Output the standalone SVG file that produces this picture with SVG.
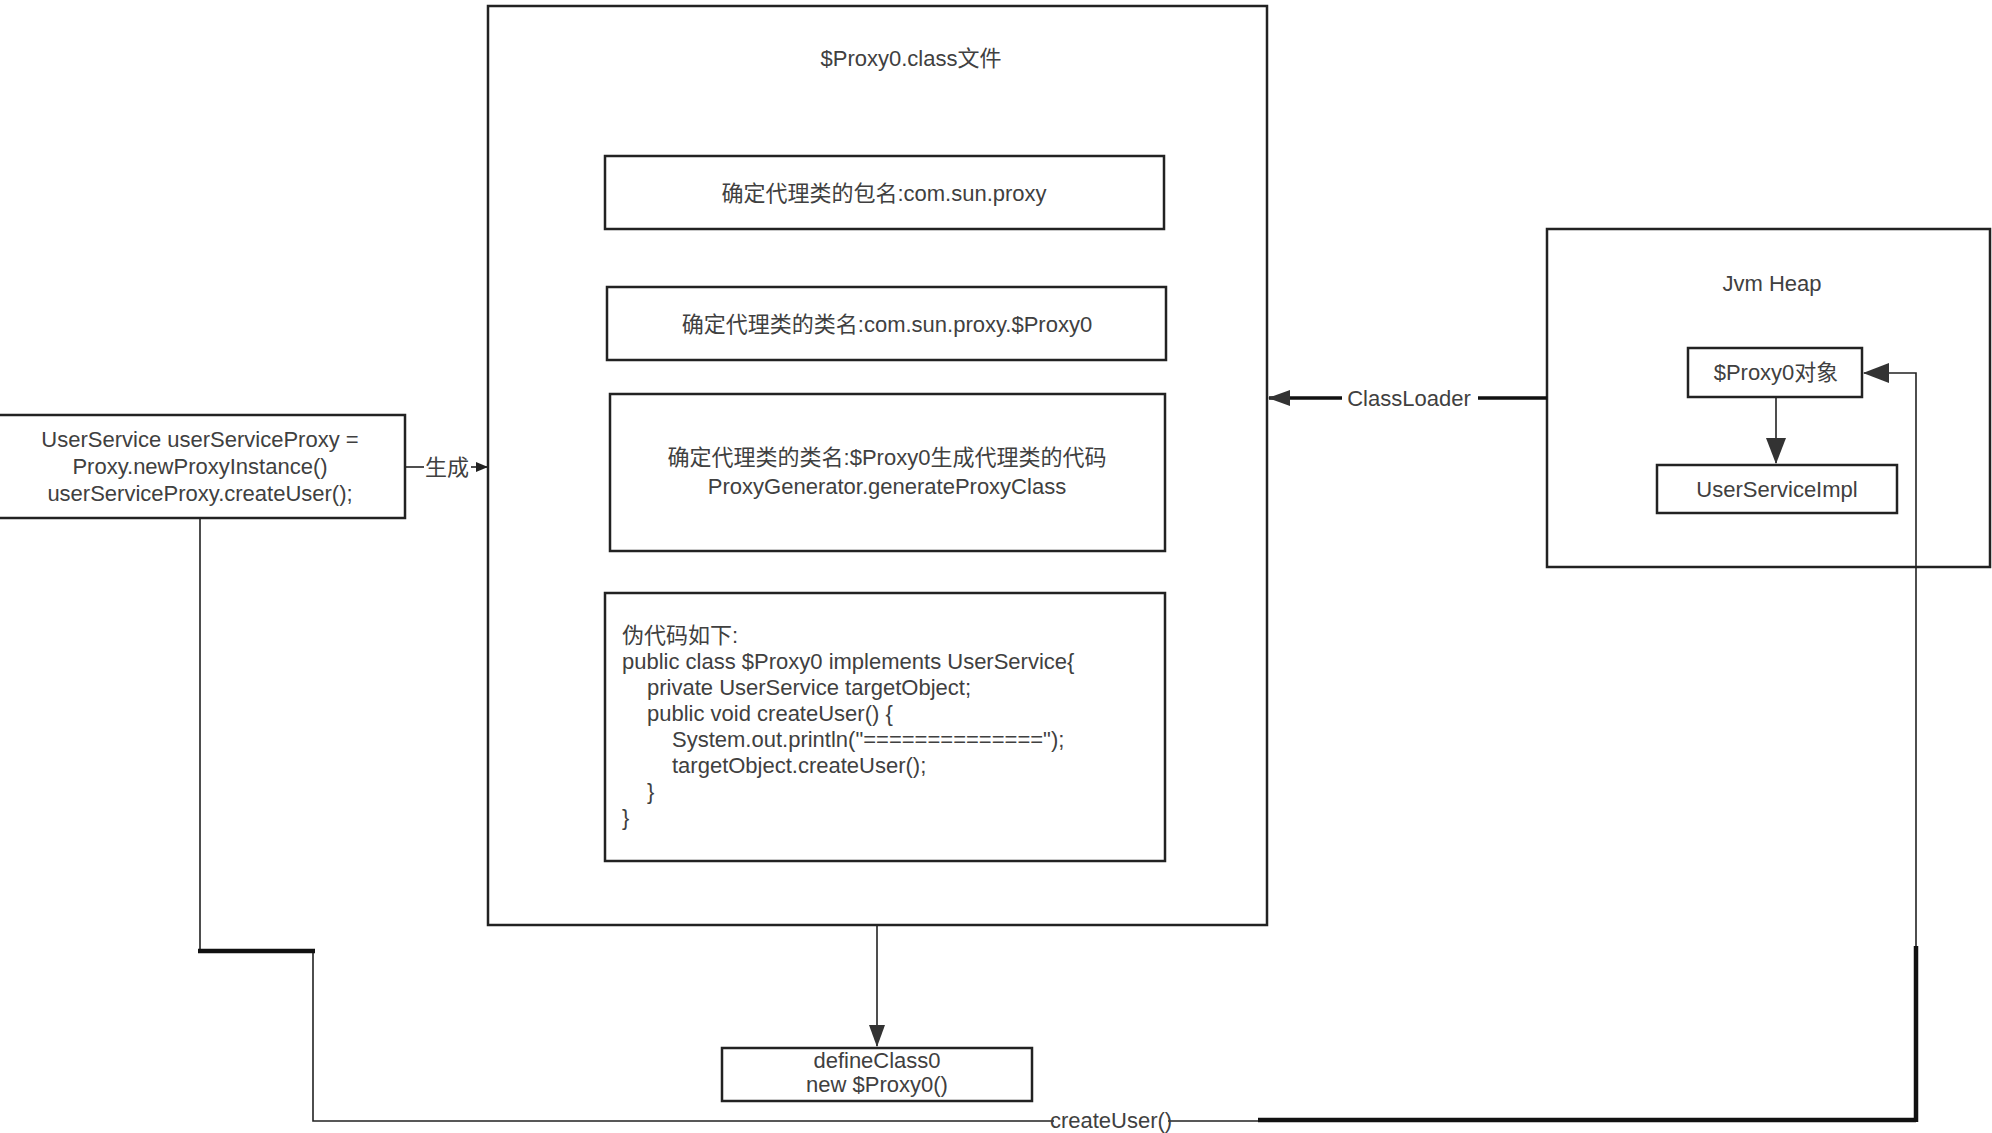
<svg xmlns="http://www.w3.org/2000/svg" width="1992" height="1133" viewBox="0 0 1992 1133">
<defs>
<style>
.box{fill:#fff;stroke:#222;stroke-width:2.5}
.t{font-family:"Liberation Sans","Noto Sans CJK SC",sans-serif;fill:#404040;font-size:22px}
.c{text-anchor:middle}
.ln{fill:none;stroke:#222;stroke-width:1.6}
.thick{fill:none;stroke:#111;stroke-width:4.5}
</style>
<marker id="ah" viewBox="0 0 12 10" refX="11" refY="5" markerWidth="12" markerHeight="10" markerUnits="userSpaceOnUse" orient="auto">
<path d="M0,0 L12,5 L0,10 z" fill="#222"/>
</marker>
<marker id="ahL" viewBox="0 0 22 16" refX="21" refY="8" markerWidth="22" markerHeight="16" markerUnits="userSpaceOnUse" orient="auto">
<path d="M0,0 L22,8 L0,16 z" fill="#333"/>
</marker>
<marker id="ahXL" viewBox="0 0 26 20" refX="25" refY="10" markerWidth="26" markerHeight="20" markerUnits="userSpaceOnUse" orient="auto">
<path d="M0,0 L26,10 L0,20 z" fill="#333"/>
</marker>
</defs>
<rect width="1992" height="1133" fill="#fff"/>

<g id="proxy-class-file">
<rect class="box" x="488" y="6" width="779" height="919"/>
<text class="t c" x="911" y="66" font-size="21">$Proxy0.class文件</text>
</g>

<g id="package-name">
<rect class="box" x="605" y="156" width="559" height="73"/>
<text class="t c" x="884" y="201">确定代理类的包名:com.sun.proxy</text>
</g>

<g id="class-name">
<rect class="box" x="607" y="287" width="559" height="73"/>
<text class="t c" x="887" y="332">确定代理类的类名:com.sun.proxy.$Proxy0</text>
</g>

<g id="generate-code">
<rect class="box" x="610" y="394" width="555" height="157"/>
<text class="t c" x="887" y="465">确定代理类的类名:$Proxy0生成代理类的代码</text>
<text class="t c" x="887" y="494">ProxyGenerator.generateProxyClass</text>
</g>

<g id="pseudo-code">
<rect class="box" x="605" y="593" width="560" height="268"/>
<text class="t" x="622" y="643">伪代码如下:</text>
<text class="t" x="622" y="669">public class $Proxy0 implements UserService{</text>
<text class="t" x="647" y="695">private UserService targetObject;</text>
<text class="t" x="647" y="721">public void createUser() {</text>
<text class="t" x="672" y="747">System.out.println("==============");</text>
<text class="t" x="672" y="773">targetObject.createUser();</text>
<text class="t" x="647" y="799">}</text>
<text class="t" x="622" y="825">}</text>
</g>

<g id="client">
<rect class="box" x="-2" y="415" width="407" height="103"/>
<text class="t c" x="200" y="447">UserService userServiceProxy =</text>
<text class="t c" x="200" y="474">Proxy.newProxyInstance()</text>
<text class="t c" x="200" y="501">userServiceProxy.createUser();</text>
</g>

<g id="jvm-heap">
<rect class="box" x="1547" y="229" width="443" height="338"/>
<text class="t c" x="1772" y="291" font-size="21">Jvm Heap</text>
</g>

<g id="proxy-object">
<rect class="box" x="1688" y="348" width="174" height="49" stroke-width="3"/>
<text class="t c" x="1776" y="380">$Proxy0对象</text>
</g>

<g id="user-service-impl">
<rect class="box" x="1657" y="465" width="240" height="48" stroke-width="3"/>
<text class="t c" x="1777" y="497">UserServiceImpl</text>
</g>

<g id="define-class">
<rect class="box" x="722" y="1048" width="310" height="53"/>
<text class="t c" x="877" y="1068" font-size="18">defineClass0</text>
<text class="t c" x="877" y="1092" font-size="18">new $Proxy0()</text>
</g>

<g id="connectors">
<line class="ln" x1="405" y1="467" x2="424" y2="467"/>
<line class="ln" x1="471" y1="467" x2="487" y2="467" marker-end="url(#ah)"/>
<text class="t" x="447" y="475" text-anchor="middle">生成</text>

<line x1="1547" y1="398" x2="1478" y2="398" stroke="#111" stroke-width="3.5"/>
<line x1="1342" y1="398" x2="1269" y2="398" stroke="#111" stroke-width="3.5" marker-end="url(#ahL)"/>
<text class="t" x="1409" y="406" text-anchor="middle" font-size="21">ClassLoader</text>

<line class="ln" x1="1776" y1="398" x2="1776" y2="463" stroke-width="2.8" marker-end="url(#ahXL)"/>

<line class="ln" x1="877" y1="926" x2="877" y2="1046" marker-end="url(#ahL)"/>

<path class="ln" d="M200,518 V950 H313 V1121 H1054"/>
<path class="ln" d="M1168,1121 H1916 V946"/>
<path class="ln" d="M1916,948 V373 H1864" stroke-width="2.6" marker-end="url(#ahXL)"/>
<line class="thick" x1="198" y1="951" x2="315" y2="951"/>
<line class="thick" x1="1258" y1="1120" x2="1916" y2="1120"/>
<line class="thick" x1="1916" y1="1122" x2="1916" y2="946"/>
<text class="t" x="1111" y="1128" text-anchor="middle" font-size="18">createUser()</text>
</g>
</svg>
